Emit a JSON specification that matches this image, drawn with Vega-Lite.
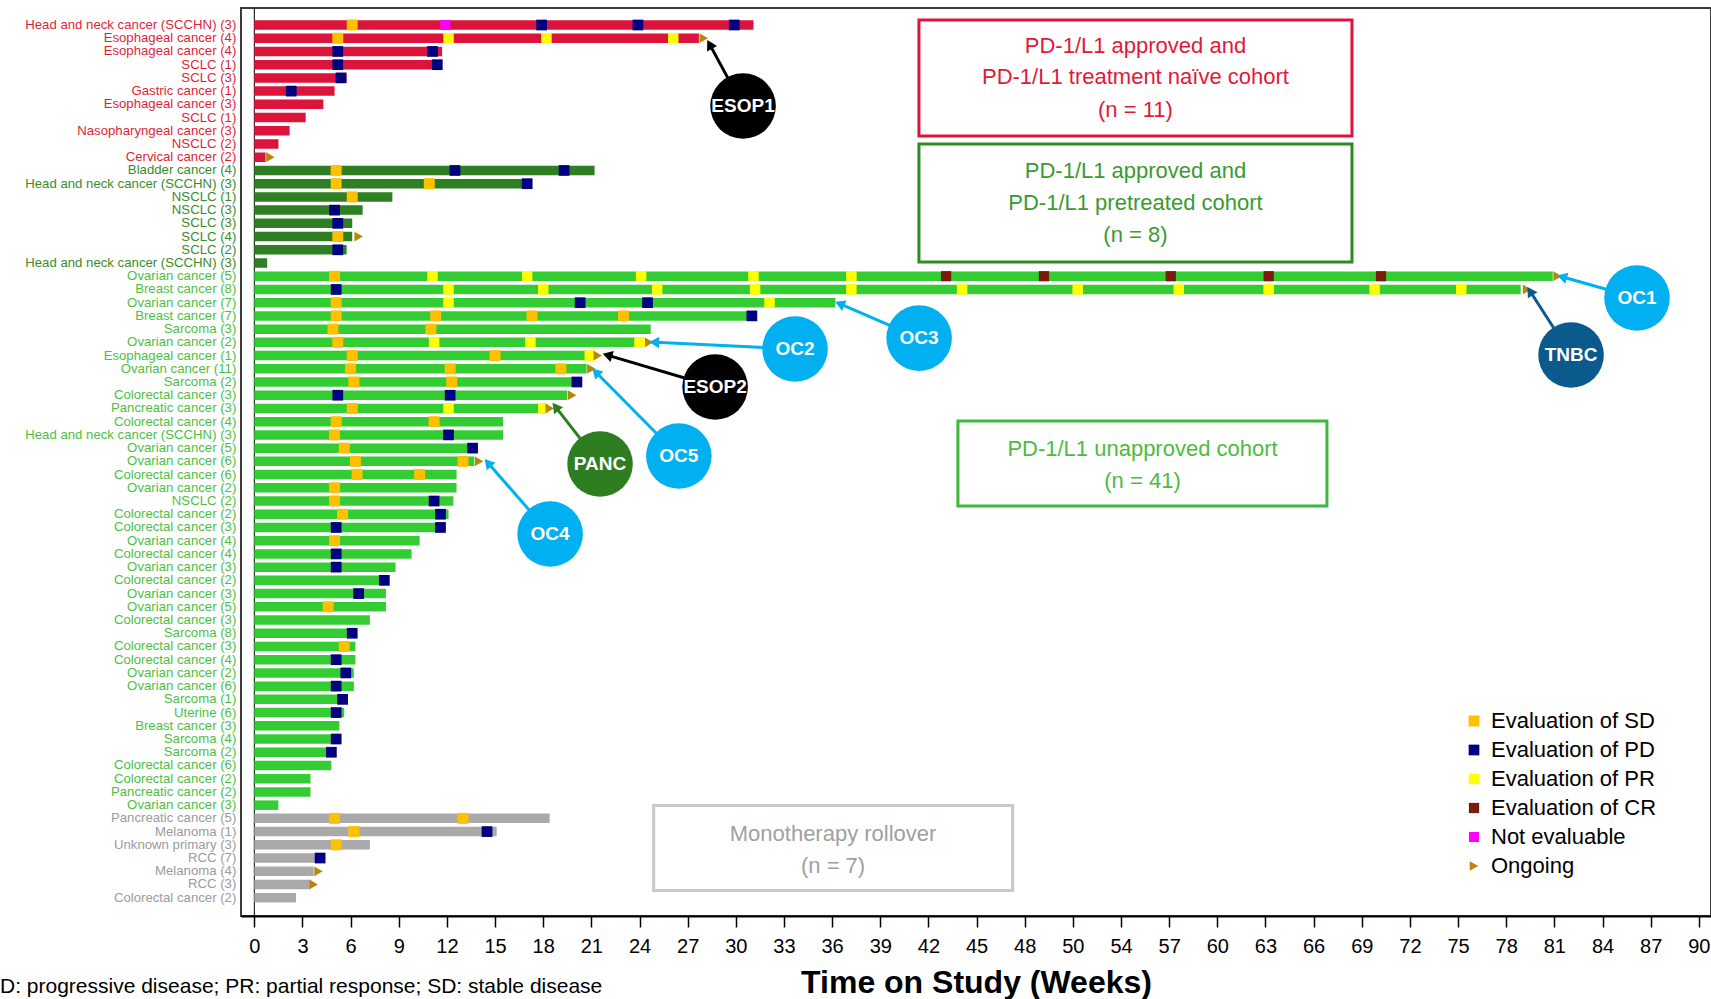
{
  "$schema": "https://vega.github.io/schema/vega-lite/v6.json",
  "width": 1470,
  "height": 908,
  "autosize": {"type": "none"},
  "padding": {"left": 241, "top": 8, "right": 0, "bottom": 83},
  "background": "white",
  "config": {"font": "Liberation Sans", "view": {"stroke": "#3a3a3a", "strokeWidth": 2}, "scale": {"continuousPadding": 0}},
  "datasets": {
    "rows": [
      {"r": 1, "label": "Head and neck cancer (SCCHN) (3)", "c": "naive", "end": 31.1},
      {"r": 2, "label": "Esophageal cancer (4)", "c": "naive", "end": 27.7},
      {"r": 3, "label": "Esophageal cancer (4)", "c": "naive", "end": 11.7},
      {"r": 4, "label": "SCLC (1)", "c": "naive", "end": 11.6},
      {"r": 5, "label": "SCLC (3)", "c": "naive", "end": 5.75},
      {"r": 6, "label": "Gastric cancer (1)", "c": "naive", "end": 5.0},
      {"r": 7, "label": "Esophageal cancer (3)", "c": "naive", "end": 4.3},
      {"r": 8, "label": "SCLC (1)", "c": "naive", "end": 3.2},
      {"r": 9, "label": "Nasopharyngeal cancer (3)", "c": "naive", "end": 2.2},
      {"r": 10, "label": "NSCLC (2)", "c": "naive", "end": 1.5},
      {"r": 11, "label": "Cervical cancer (2)", "c": "naive", "end": 0.7},
      {"r": 12, "label": "Bladder cancer (4)", "c": "pretreated", "end": 21.2},
      {"r": 13, "label": "Head and neck cancer (SCCHN) (3)", "c": "pretreated", "end": 17.3},
      {"r": 14, "label": "NSCLC (1)", "c": "pretreated", "end": 8.6},
      {"r": 15, "label": "NSCLC (3)", "c": "pretreated", "end": 6.75},
      {"r": 16, "label": "SCLC (3)", "c": "pretreated", "end": 6.1},
      {"r": 17, "label": "SCLC (4)", "c": "pretreated", "end": 6.1},
      {"r": 18, "label": "SCLC (2)", "c": "pretreated", "end": 5.75},
      {"r": 19, "label": "Head and neck cancer (SCCHN) (3)", "c": "pretreated", "end": 0.8},
      {"r": 20, "label": "Ovarian cancer (5)", "c": "unapproved", "end": 80.9},
      {"r": 21, "label": "Breast cancer (8)", "c": "unapproved", "end": 78.9},
      {"r": 22, "label": "Ovarian cancer (7)", "c": "unapproved", "end": 36.2},
      {"r": 23, "label": "Breast cancer (7)", "c": "unapproved", "end": 31.3},
      {"r": 24, "label": "Sarcoma (3)", "c": "unapproved", "end": 24.7},
      {"r": 25, "label": "Ovarian cancer (2)", "c": "unapproved", "end": 24.2},
      {"r": 26, "label": "Esophageal cancer (1)", "c": "unapproved", "end": 21.1},
      {"r": 27, "label": "Ovarian cancer (11)", "c": "unapproved", "end": 20.7},
      {"r": 28, "label": "Sarcoma (2)", "c": "unapproved", "end": 20.2},
      {"r": 29, "label": "Colorectal cancer (3)", "c": "unapproved", "end": 19.5},
      {"r": 30, "label": "Pancreatic cancer (3)", "c": "unapproved", "end": 18.2},
      {"r": 31, "label": "Colorectal cancer (4)", "c": "unapproved", "end": 15.5},
      {"r": 32, "label": "Head and neck cancer (SCCHN) (3)", "c": "unapproved", "end": 15.5},
      {"r": 33, "label": "Ovarian cancer (5)", "c": "unapproved", "end": 13.9},
      {"r": 34, "label": "Ovarian cancer (6)", "c": "unapproved", "end": 13.7},
      {"r": 35, "label": "Colorectal cancer (6)", "c": "unapproved", "end": 12.6},
      {"r": 36, "label": "Ovarian cancer (2)", "c": "unapproved", "end": 12.6},
      {"r": 37, "label": "NSCLC (2)", "c": "unapproved", "end": 12.4},
      {"r": 38, "label": "Colorectal cancer (2)", "c": "unapproved", "end": 12.1},
      {"r": 39, "label": "Colorectal cancer (3)", "c": "unapproved", "end": 11.7},
      {"r": 40, "label": "Ovarian cancer (4)", "c": "unapproved", "end": 10.3},
      {"r": 41, "label": "Colorectal cancer (4)", "c": "unapproved", "end": 9.8},
      {"r": 42, "label": "Ovarian cancer (3)", "c": "unapproved", "end": 8.8},
      {"r": 43, "label": "Colorectal cancer (2)", "c": "unapproved", "end": 8.3},
      {"r": 44, "label": "Ovarian cancer (3)", "c": "unapproved", "end": 8.2},
      {"r": 45, "label": "Ovarian cancer (5)", "c": "unapproved", "end": 8.2},
      {"r": 46, "label": "Colorectal cancer (3)", "c": "unapproved", "end": 7.2},
      {"r": 47, "label": "Sarcoma (8)", "c": "unapproved", "end": 6.4},
      {"r": 48, "label": "Colorectal cancer (3)", "c": "unapproved", "end": 6.3},
      {"r": 49, "label": "Colorectal cancer (4)", "c": "unapproved", "end": 6.3},
      {"r": 50, "label": "Ovarian cancer (2)", "c": "unapproved", "end": 6.2},
      {"r": 51, "label": "Ovarian cancer (6)", "c": "unapproved", "end": 6.2},
      {"r": 52, "label": "Sarcoma (1)", "c": "unapproved", "end": 5.8},
      {"r": 53, "label": "Uterine (6)", "c": "unapproved", "end": 5.6},
      {"r": 54, "label": "Breast cancer (3)", "c": "unapproved", "end": 5.3},
      {"r": 55, "label": "Sarcoma (4)", "c": "unapproved", "end": 5.4},
      {"r": 56, "label": "Sarcoma (2)", "c": "unapproved", "end": 5.1},
      {"r": 57, "label": "Colorectal cancer (6)", "c": "unapproved", "end": 4.8},
      {"r": 58, "label": "Colorectal cancer (2)", "c": "unapproved", "end": 3.5},
      {"r": 59, "label": "Pancreatic cancer (2)", "c": "unapproved", "end": 3.5},
      {"r": 60, "label": "Ovarian cancer (3)", "c": "unapproved", "end": 1.5},
      {"r": 61, "label": "Pancreatic cancer (5)", "c": "rollover", "end": 18.4},
      {"r": 62, "label": "Melanoma (1)", "c": "rollover", "end": 15.1},
      {"r": 63, "label": "Unknown primary (3)", "c": "rollover", "end": 7.2},
      {"r": 64, "label": "RCC (7)", "c": "rollover", "end": 4.4},
      {"r": 65, "label": "Melanoma (4)", "c": "rollover", "end": 3.7},
      {"r": 66, "label": "RCC (3)", "c": "rollover", "end": 3.5},
      {"r": 67, "label": "Colorectal cancer (2)", "c": "rollover", "end": 2.6}
    ],
    "events": [
      {"r": 1, "w": 6.1, "t": "SD"}, {"r": 1, "w": 11.9, "t": "NE"}, {"r": 1, "w": 17.9, "t": "PD"}, {"r": 1, "w": 23.9, "t": "PD"}, {"r": 1, "w": 29.9, "t": "PD"},
      {"r": 2, "w": 5.2, "t": "SD"}, {"r": 2, "w": 12.1, "t": "PR"}, {"r": 2, "w": 18.2, "t": "PR"}, {"r": 2, "w": 26.1, "t": "PR"}, {"r": 2, "w": 28.0, "t": "ON"},
      {"r": 3, "w": 5.2, "t": "PD"}, {"r": 3, "w": 11.1, "t": "PD"},
      {"r": 4, "w": 5.2, "t": "PD"}, {"r": 4, "w": 11.4, "t": "PD"},
      {"r": 5, "w": 5.4, "t": "PD"},
      {"r": 6, "w": 2.3, "t": "PD"},
      {"r": 11, "w": 1.0, "t": "ON"},
      {"r": 12, "w": 5.1, "t": "SD"}, {"r": 12, "w": 12.5, "t": "PD"}, {"r": 12, "w": 19.3, "t": "PD"},
      {"r": 13, "w": 5.1, "t": "SD"}, {"r": 13, "w": 10.9, "t": "SD"}, {"r": 13, "w": 17.0, "t": "PD"},
      {"r": 14, "w": 6.1, "t": "SD"},
      {"r": 15, "w": 5.0, "t": "PD"},
      {"r": 16, "w": 5.2, "t": "PD"},
      {"r": 17, "w": 5.2, "t": "SD"}, {"r": 17, "w": 6.5, "t": "ON"},
      {"r": 18, "w": 5.2, "t": "PD"},
      {"r": 20, "w": 5.0, "t": "SD"}, {"r": 20, "w": 11.1, "t": "PR"}, {"r": 20, "w": 17.0, "t": "PR"}, {"r": 20, "w": 24.1, "t": "PR"}, {"r": 20, "w": 31.1, "t": "PR"}, {"r": 20, "w": 37.2, "t": "PR"}, {"r": 20, "w": 43.1, "t": "CR"}, {"r": 20, "w": 49.2, "t": "CR"}, {"r": 20, "w": 57.1, "t": "CR"}, {"r": 20, "w": 63.2, "t": "CR"}, {"r": 20, "w": 70.2, "t": "CR"}, {"r": 20, "w": 81.2, "t": "ON"},
      {"r": 21, "w": 5.1, "t": "PD"}, {"r": 21, "w": 12.1, "t": "PR"}, {"r": 21, "w": 18.0, "t": "PR"}, {"r": 21, "w": 25.1, "t": "PR"}, {"r": 21, "w": 31.2, "t": "PR"}, {"r": 21, "w": 37.2, "t": "PR"}, {"r": 21, "w": 44.1, "t": "PR"}, {"r": 21, "w": 51.3, "t": "PR"}, {"r": 21, "w": 57.6, "t": "PR"}, {"r": 21, "w": 63.2, "t": "PR"}, {"r": 21, "w": 69.8, "t": "PR"}, {"r": 21, "w": 75.2, "t": "PR"}, {"r": 21, "w": 79.3, "t": "ON"},
      {"r": 22, "w": 5.1, "t": "SD"}, {"r": 22, "w": 12.1, "t": "PR"}, {"r": 22, "w": 20.3, "t": "PD"}, {"r": 22, "w": 24.5, "t": "PD"}, {"r": 22, "w": 32.1, "t": "PR"},
      {"r": 23, "w": 5.1, "t": "SD"}, {"r": 23, "w": 11.3, "t": "SD"}, {"r": 23, "w": 17.3, "t": "SD"}, {"r": 23, "w": 23.0, "t": "SD"}, {"r": 23, "w": 31.0, "t": "PD"},
      {"r": 24, "w": 4.9, "t": "SD"}, {"r": 24, "w": 11.0, "t": "SD"},
      {"r": 25, "w": 5.2, "t": "SD"}, {"r": 25, "w": 11.2, "t": "PR"}, {"r": 25, "w": 17.2, "t": "PR"}, {"r": 25, "w": 24.0, "t": "PR"}, {"r": 25, "w": 24.6, "t": "ON"},
      {"r": 26, "w": 6.1, "t": "SD"}, {"r": 26, "w": 15.0, "t": "SD"}, {"r": 26, "w": 20.9, "t": "PR"}, {"r": 26, "w": 21.4, "t": "ON"},
      {"r": 27, "w": 6.0, "t": "SD"}, {"r": 27, "w": 12.2, "t": "SD"}, {"r": 27, "w": 19.1, "t": "SD"}, {"r": 27, "w": 21.0, "t": "ON"},
      {"r": 28, "w": 6.2, "t": "SD"}, {"r": 28, "w": 12.3, "t": "SD"}, {"r": 28, "w": 20.1, "t": "PD"},
      {"r": 29, "w": 5.2, "t": "PD"}, {"r": 29, "w": 12.2, "t": "PD"}, {"r": 29, "w": 19.8, "t": "ON"},
      {"r": 30, "w": 6.1, "t": "SD"}, {"r": 30, "w": 12.1, "t": "PR"}, {"r": 30, "w": 18.0, "t": "PR"}, {"r": 30, "w": 18.4, "t": "ON"},
      {"r": 31, "w": 5.1, "t": "SD"}, {"r": 31, "w": 11.2, "t": "SD"},
      {"r": 32, "w": 5.0, "t": "SD"}, {"r": 32, "w": 12.1, "t": "PD"},
      {"r": 33, "w": 5.6, "t": "SD"}, {"r": 33, "w": 13.6, "t": "PD"},
      {"r": 34, "w": 6.3, "t": "SD"}, {"r": 34, "w": 13.0, "t": "SD"}, {"r": 34, "w": 14.0, "t": "ON"},
      {"r": 35, "w": 6.4, "t": "SD"}, {"r": 35, "w": 10.3, "t": "SD"},
      {"r": 36, "w": 5.0, "t": "SD"},
      {"r": 37, "w": 5.0, "t": "SD"}, {"r": 37, "w": 11.2, "t": "PD"},
      {"r": 38, "w": 5.5, "t": "SD"}, {"r": 38, "w": 11.6, "t": "PD"},
      {"r": 39, "w": 5.1, "t": "PD"}, {"r": 39, "w": 11.6, "t": "PD"},
      {"r": 40, "w": 5.0, "t": "SD"},
      {"r": 41, "w": 5.1, "t": "PD"},
      {"r": 42, "w": 5.1, "t": "PD"},
      {"r": 43, "w": 8.1, "t": "PD"},
      {"r": 44, "w": 6.5, "t": "PD"},
      {"r": 45, "w": 4.6, "t": "SD"},
      {"r": 47, "w": 6.1, "t": "PD"},
      {"r": 48, "w": 5.6, "t": "SD"},
      {"r": 49, "w": 5.1, "t": "PD"},
      {"r": 50, "w": 5.7, "t": "PD"},
      {"r": 51, "w": 5.1, "t": "PD"},
      {"r": 52, "w": 5.5, "t": "PD"},
      {"r": 53, "w": 5.1, "t": "PD"},
      {"r": 55, "w": 5.1, "t": "PD"},
      {"r": 56, "w": 4.8, "t": "PD"},
      {"r": 61, "w": 5.0, "t": "SD"}, {"r": 61, "w": 13.0, "t": "SD"},
      {"r": 62, "w": 6.2, "t": "SD"}, {"r": 62, "w": 14.5, "t": "PD"},
      {"r": 63, "w": 5.1, "t": "SD"},
      {"r": 64, "w": 4.1, "t": "PD"},
      {"r": 65, "w": 4.0, "t": "ON"},
      {"r": 66, "w": 3.7, "t": "ON"}
    ],
    "boxes": [
      {"c": "naive", "x": 41.41, "x2": 68.39, "y": 0.62, "y2": 9.4},
      {"c": "pretreated", "x": 41.41, "x2": 68.39, "y": 10.0, "y2": 18.93},
      {"c": "unapproved", "x": 43.84, "x2": 66.83, "y": 30.95, "y2": 37.38},
      {"c": "rollover", "x": 24.88, "x2": 47.25, "y": 60.03, "y2": 66.46}
    ],
    "boxtext": [
      {"c": "naive", "x": 54.9, "y": 2.57, "t": "PD-1/L1 approved and"},
      {"c": "naive", "x": 54.9, "y": 4.97, "t": "PD-1/L1 treatment naïve cohort"},
      {"c": "naive", "x": 54.9, "y": 7.44, "t": "(n = 11)"},
      {"c": "pretreated", "x": 54.9, "y": 12.07, "t": "PD-1/L1 approved and"},
      {"c": "pretreated", "x": 54.9, "y": 14.46, "t": "PD-1/L1 pretreated cohort"},
      {"c": "pretreated", "x": 54.9, "y": 16.86, "t": "(n = 8)"},
      {"c": "unapproved", "x": 55.34, "y": 33.1, "t": "PD-1/L1 unapproved cohort"},
      {"c": "unapproved", "x": 55.34, "y": 35.5, "t": "(n = 41)"},
      {"c": "rollover", "x": 36.06, "y": 62.17, "t": "Monotherapy rollover"},
      {"c": "rollover", "x": 36.06, "y": 64.64, "t": "(n = 7)"}
    ],
    "bubbles": [
      {"name": "ESOP1", "g": "k", "x": 30.45, "y": 7.13, "tx": 28.42, "ty": 2.58},
      {"name": "OC1", "g": "b", "x": 86.15, "y": 21.65, "tx": 81.58, "ty": 20.08},
      {"name": "TNBC", "g": "n", "x": 82.04, "y": 25.96, "tx": 79.54, "ty": 21.23},
      {"name": "OC3", "g": "b", "x": 41.42, "y": 24.68, "tx": 36.57, "ty": 22.13},
      {"name": "OC2", "g": "b", "x": 33.69, "y": 25.5, "tx": 25.02, "ty": 25.0},
      {"name": "ESOP2", "g": "k", "x": 28.71, "y": 28.38, "tx": 22.1, "ty": 26.0},
      {"name": "OC5", "g": "b", "x": 26.45, "y": 33.6, "tx": 21.35, "ty": 27.34},
      {"name": "PANC", "g": "g", "x": 21.54, "y": 34.2, "tx": 18.83, "ty": 29.97},
      {"name": "OC4", "g": "b", "x": 18.43, "y": 39.5, "tx": 14.62, "ty": 34.2}
    ],
    "notes": [
      {"note": "PD: progressive disease; PR: partial response; SD: stable disease", "x": -16.72, "y": 74.23}
    ],
    "zero": [{"x": 0}]
  },
  "layer": [
    {
      "data": {"name": "zero"},
      "mark": {"type": "rule", "color": "black", "strokeWidth": 1},
      "encoding": {
        "x": {"field": "x", "type": "quantitative", "scale": {"domain": [-0.83, 90.76], "nice": false, "zero": false, "padding": 0},
          "axis": {
            "title": "Time on Study (Weeks)", "titleFont": "Liberation Sans", "titleFontSize": 32, "titleFontWeight": "bold", "titleColor": "black", "titlePadding": 11,
            "values": [0,3,6,9,12,15,18,21,24,27,30,33,36,39,42,45,48,51,54,57,60,63,66,69,72,75,78,81,84,87,90],
            "labelExpr": "datum.value == 51 ? '50' : datum.label",
            "labelFont": "Liberation Sans", "labelFontSize": 20, "labelColor": "black", "labelPadding": 9, "labelFlush": false, "labelOverlap": false,
            "tickSize": 11, "tickColor": "black", "tickWidth": 1.5, "domainColor": "black", "domainWidth": 2, "grid": false
          }
        }
      }
    },
    {
      "data": {"name": "rows"},
      "mark": {"type": "bar", "height": 9.5, "orient": "horizontal"},
      "encoding": {
        "x": {"field": "end", "type": "quantitative", "scale": {"domain": [-0.83, 90.76], "nice": false, "zero": false, "padding": 0}},
        "x2": {"datum": 0},
        "y": {"field": "r", "type": "quantitative", "scale": {"domain": [-0.286, 68.384], "reverse": true, "nice": false, "zero": false, "padding": 0}, "axis": null},
        "color": {"field": "c", "type": "nominal", "scale": {"domain": ["naive", "pretreated", "unapproved", "rollover"], "range": ["#DC143C", "#2D7F22", "#33CC33", "#A9A9A9"]}, "legend": null}
      }
    },
    {
      "data": {"name": "rows"},
      "mark": {"type": "text", "align": "right", "baseline": "middle", "fontSize": 13.2, "font": "Liberation Sans", "dx": -18},
      "encoding": {
        "x": {"datum": 0, "type": "quantitative", "scale": {"domain": [-0.83, 90.76], "nice": false, "zero": false, "padding": 0}},
        "y": {"field": "r", "type": "quantitative", "scale": {"domain": [-0.286, 68.384], "reverse": true, "nice": false, "zero": false, "padding": 0}, "axis": null},
        "text": {"field": "label"},
        "color": {"field": "c", "type": "nominal", "scale": {"domain": ["naive", "pretreated", "unapproved", "rollover"], "range": ["#DE1F3A", "#3A8C2C", "#4DBF43", "#9B9B9B"]}, "legend": null}
      }
    },
    {
      "data": {"name": "events"},
      "mark": {"type": "point", "filled": true, "opacity": 1, "strokeWidth": 0},
      "encoding": {
        "x": {"field": "w", "type": "quantitative", "scale": {"domain": [-0.83, 90.76], "nice": false, "zero": false, "padding": 0}},
        "y": {"field": "r", "type": "quantitative", "scale": {"domain": [-0.286, 68.384], "reverse": true, "nice": false, "zero": false, "padding": 0}, "axis": null},
        "color": {"field": "t", "type": "nominal",
          "scale": {"domain": ["SD", "PD", "PR", "CR", "NE", "ON"], "range": ["#FFC000", "#000080", "#FFFF00", "#7B1A0A", "#FF00FF", "#B8860B"]},
          "legend": {
            "orient": "none", "legendX": 1222, "legendY": 702, "title": null, "padding": 0,
            "labelFont": "Liberation Sans", "labelFontSize": 22, "labelColor": "black", "labelOffset": 6, "rowPadding": 7, "labelLimit": 0,
            "symbolSize": 125, "symbolStrokeWidth": 0, "symbolOpacity": 1,
            "labelExpr": "datum.label == 'SD' ? 'Evaluation of SD' : datum.label == 'PD' ? 'Evaluation of PD' : datum.label == 'PR' ? 'Evaluation of PR' : datum.label == 'CR' ? 'Evaluation of CR' : datum.label == 'NE' ? 'Not evaluable' : 'Ongoing'"
          }
        },
        "shape": {"field": "t", "type": "nominal", "scale": {"domain": ["SD", "PD", "PR", "CR", "NE", "ON"], "range": ["square", "square", "square", "square", "square", "triangle-right"]}},
        "size": {"field": "t", "type": "nominal", "scale": {"domain": ["SD", "PD", "PR", "CR", "NE", "ON"], "range": [120, 95, 80, 100, 100, 90]}, "legend": null}
      }
    },
    {
      "data": {"name": "boxes"},
      "mark": {"type": "rect", "filled": false, "strokeWidth": 3},
      "encoding": {
        "x": {"field": "x", "type": "quantitative", "scale": {"domain": [-0.83, 90.76], "nice": false, "zero": false, "padding": 0}},
        "x2": {"field": "x2"},
        "y": {"field": "y", "type": "quantitative", "scale": {"domain": [-0.286, 68.384], "reverse": true, "nice": false, "zero": false, "padding": 0}, "axis": null},
        "y2": {"field": "y2"},
        "color": {"field": "c", "type": "nominal", "scale": {"domain": ["naive", "pretreated", "unapproved", "rollover"], "range": ["#DC143C", "#2E8B22", "#3DB83A", "#C8C8C8"]}, "legend": null}
      }
    },
    {
      "data": {"name": "boxtext"},
      "mark": {"type": "text", "align": "center", "baseline": "middle", "fontSize": 22, "font": "Liberation Sans"},
      "encoding": {
        "x": {"field": "x", "type": "quantitative", "scale": {"domain": [-0.83, 90.76], "nice": false, "zero": false, "padding": 0}},
        "y": {"field": "y", "type": "quantitative", "scale": {"domain": [-0.286, 68.384], "reverse": true, "nice": false, "zero": false, "padding": 0}, "axis": null},
        "text": {"field": "t"},
        "color": {"field": "c", "type": "nominal", "scale": {"domain": ["naive", "pretreated", "unapproved", "rollover"], "range": ["#E0193A", "#3B9A30", "#4CBB40", "#A0A0A0"]}, "legend": null}
      }
    },
    {
      "data": {"name": "bubbles"},
      "mark": {"type": "rule", "strokeWidth": 3},
      "encoding": {
        "x": {"field": "x", "type": "quantitative", "scale": {"domain": [-0.83, 90.76], "nice": false, "zero": false, "padding": 0}},
        "x2": {"field": "tx"},
        "y": {"field": "y", "type": "quantitative", "scale": {"domain": [-0.286, 68.384], "reverse": true, "nice": false, "zero": false, "padding": 0}, "axis": null},
        "y2": {"field": "ty"},
        "color": {"field": "g", "type": "nominal", "scale": {"domain": ["k", "b", "n", "g"], "range": ["#000000", "#00B0F0", "#0B5A8C", "#2E7D21"]}, "legend": null}
      }
    },
    {
      "data": {"name": "bubbles"},
      "transform": [
        {"calculate": "atan2((datum.tx - datum.x) * 16.05, -(datum.ty - datum.y) * 13.22) * 180 / PI", "as": "ang"}
      ],
      "mark": {"type": "point", "shape": "triangle", "filled": true, "opacity": 1, "size": 130, "strokeWidth": 0, "angle": {"expr": "datum.ang"}},
      "encoding": {
        "x": {"field": "tx", "type": "quantitative", "scale": {"domain": [-0.83, 90.76], "nice": false, "zero": false, "padding": 0}},
        "y": {"field": "ty", "type": "quantitative", "scale": {"domain": [-0.286, 68.384], "reverse": true, "nice": false, "zero": false, "padding": 0}, "axis": null},
        "color": {"field": "g", "type": "nominal", "scale": {"domain": ["k", "b", "n", "g"], "range": ["#000000", "#00B0F0", "#0B5A8C", "#2E7D21"]}, "legend": null}
      }
    },
    {
      "data": {"name": "bubbles"},
      "mark": {"type": "point", "shape": "circle", "filled": true, "opacity": 1, "size": 4300, "strokeWidth": 0},
      "encoding": {
        "x": {"field": "x", "type": "quantitative", "scale": {"domain": [-0.83, 90.76], "nice": false, "zero": false, "padding": 0}},
        "y": {"field": "y", "type": "quantitative", "scale": {"domain": [-0.286, 68.384], "reverse": true, "nice": false, "zero": false, "padding": 0}, "axis": null},
        "color": {"field": "g", "type": "nominal", "scale": {"domain": ["k", "b", "n", "g"], "range": ["#000000", "#00B0F0", "#0B5A8C", "#2E7D21"]}, "legend": null}
      }
    },
    {
      "data": {"name": "bubbles"},
      "mark": {"type": "text", "align": "center", "baseline": "middle", "fontSize": 19, "fontWeight": "bold", "font": "Liberation Sans", "color": "white"},
      "encoding": {
        "x": {"field": "x", "type": "quantitative", "scale": {"domain": [-0.83, 90.76], "nice": false, "zero": false, "padding": 0}},
        "y": {"field": "y", "type": "quantitative", "scale": {"domain": [-0.286, 68.384], "reverse": true, "nice": false, "zero": false, "padding": 0}, "axis": null},
        "text": {"field": "name"}
      }
    },
    {
      "data": {"name": "notes"},
      "mark": {"type": "text", "align": "left", "baseline": "alphabetic", "fontSize": 21, "font": "Liberation Sans", "color": "black"},
      "encoding": {
        "x": {"field": "x", "type": "quantitative", "scale": {"domain": [-0.83, 90.76], "nice": false, "zero": false, "padding": 0}},
        "y": {"field": "y", "type": "quantitative", "scale": {"domain": [-0.286, 68.384], "reverse": true, "nice": false, "zero": false, "padding": 0}, "axis": null},
        "text": {"field": "note"}
      }
    }
  ],
  "resolve": {"scale": {"color": "independent", "shape": "independent", "size": "independent"}}
}
